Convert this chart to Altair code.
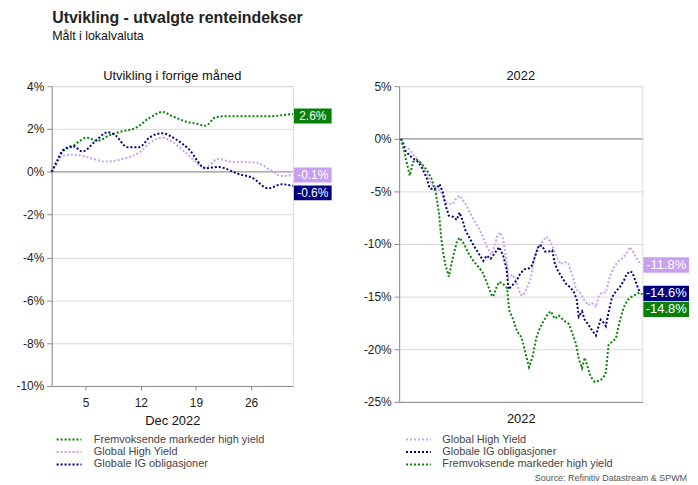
import altair as alt
import pandas as pd

FONT = "Liberation Sans"
GREEN = "#078007"
NAVY = "#00007f"
LAV = "#c8a0f0"

EM = "Fremvoksende markeder high yield"
GHY = "Global High Yield"
GIG = "Globale IG obligasjoner"

# ---- Left panel: last month (December 2022), day of month -> % change
m_day_em = [0.7, 1.5, 2.1, 3.4, 4.3, 5.1, 6.5, 8.0, 9.7, 11.0, 11.8, 13.0, 13.5, 14.7, 16.0, 17.7, 19.0, 20.2, 21.5, 22.7, 24.4, 26.5, 28.6, 30.0, 31.3]
m_val_em = [0, 0.5, 0.95, 1.2, 1.45, 1.6, 1.45, 1.7, 1.9, 2.0, 2.15, 2.5, 2.6, 2.8, 2.6, 2.35, 2.25, 2.15, 2.55, 2.6, 2.6, 2.6, 2.6, 2.65, 2.7]

m_day_ghy = [0.7, 1.5, 2.1, 3.4, 5.1, 6.5, 7.5, 9.7, 11.8, 13.5, 14.7, 16.0, 17.7, 20.2, 21.8, 23.5, 26.5, 28.6, 29.8, 31.3]
m_val_ghy = [0, 0.5, 0.75, 0.8, 0.7, 0.55, 0.48, 0.6, 0.9, 1.45, 1.6, 1.4, 0.9, 0.2, 0.6, 0.47, 0.44, 0.05, -0.19, -0.15]

m_day_gig = [0.7, 1.5, 2.1, 3.4, 4.6, 6.3, 7.8, 8.8, 10.3, 11.8, 13.1, 14.7, 16.4, 18.1, 20.2, 21.8, 24.4, 26.1, 28.2, 29.9, 31.3]
m_val_gig = [0, 0.6, 1.0, 1.2, 0.95, 1.45, 1.85, 1.7, 1.15, 1.15, 1.6, 1.8, 1.53, 1.06, 0.17, 0.23, -0.1, -0.27, -0.77, -0.58, -0.66]

m_ticks = [5, 12, 19, 26]
m_labels = {EM: "2.6%", GHY: "-0.1%", GIG: "-0.6%"}

# ---- Right panel: 2022, day of year -> % change
y_day_em = [0, 4, 9, 13, 18, 24, 30, 39, 46, 52, 57, 61, 66, 72, 78, 84, 88, 94, 102, 109,
            117, 123, 129, 136, 139, 144, 148, 154, 160, 163, 168, 175, 182, 187, 193, 198, 204, 210, 216, 222,
            226, 232, 238, 246, 253, 259, 264, 268, 273, 277, 282, 286, 292, 298, 304, 309, 313, 318, 324, 330,
            336, 342, 348, 354, 360, 364]
y_val_em = [0, -1.0, -2.4, -3.5, -2.2, -2.0, -2.3, -3.0, -3.8, -5.0, -7.0, -9.7, -11.8, -13.1, -11.3, -9.8, -9.4, -9.9, -10.9, -11.6,
            -12.2, -12.7, -13.6, -14.8, -15.0, -14.1, -13.6, -13.8, -14.2, -16.3, -17.0, -18.3, -18.9, -20.2, -21.7, -20.8, -18.9, -17.9, -17.2, -16.6,
            -16.4, -17.1, -16.8, -17.3, -17.6, -18.6, -19.5, -20.9, -21.8, -20.8, -21.8, -22.6, -23.1, -23.0, -22.8, -22.2, -19.6, -19.3, -19.0, -17.3,
            -16.0, -15.3, -15.0, -14.8, -14.6, -14.8]

y_day_gig = [0, 6, 13, 19, 24, 30, 34, 39, 43, 49, 54, 58, 63, 67, 72, 78, 84, 88, 93, 97,
             103, 109, 117, 124, 129, 135, 142, 148, 154, 159, 162, 168, 174, 180, 186, 193, 198, 202, 208, 213,
             217, 223, 228, 232, 237, 243, 249, 255, 261, 265, 268, 273, 277, 283, 289, 294, 298, 301, 306, 309,
             313, 318, 324, 330, 336, 340, 345, 349, 354, 360]
y_val_gig = [0, -1.1, -1.6, -1.9, -2.1, -2.6, -3.1, -3.8, -4.7, -4.8, -4.7, -4.3, -5.1, -6.3, -7.3, -7.4, -7.7, -7.0, -7.8, -8.7,
             -9.4, -10.1, -10.9, -11.6, -11.1, -11.4, -10.8, -10.3, -11.1, -12.3, -14.3, -13.9, -13.5, -12.8, -12.4, -12.3, -12.0, -11.2, -10.1, -10.2,
             -10.7, -10.7, -10.6, -11.9, -12.6, -13.2, -13.8, -14.1, -14.6, -15.3, -16.9, -16.4, -17.2, -17.7, -18.3, -18.7, -17.8, -17.2, -17.5, -17.8,
             -16.5, -15.1, -14.5, -14.1, -13.5, -12.9, -12.6, -12.7, -13.6, -14.6]

y_day_ghy = [0, 6, 12, 18, 24, 30, 36, 42, 48, 54, 60, 66, 72, 78, 84, 88, 94, 100, 106, 112,
             118, 124, 130, 136, 141, 145, 150, 154, 159, 162, 168, 174, 180, 184, 189, 195, 201, 207, 213, 219,
             223, 229, 234, 240, 246, 252, 258, 264, 270, 276, 282, 288, 294, 298, 303, 309, 315, 321, 327, 333,
             339, 345, 349, 354, 360]
y_val_ghy = [0, -0.7, -1.0, -1.5, -1.9, -2.4, -3.0, -3.8, -4.5, -4.7, -5.0, -6.0, -6.2, -6.2, -5.6, -5.4, -5.9, -6.5, -7.3, -8.0,
             -8.6, -9.4, -10.3, -11.0, -10.2, -9.2, -8.9, -9.6, -11.5, -13.2, -12.9, -13.7, -14.8, -14.9, -14.3, -13.4, -11.3, -10.2, -9.8, -9.3,
             -9.5, -10.3, -11.1, -11.9, -11.7, -11.8, -12.9, -14.3, -14.6, -15.3, -15.8, -15.6, -16.0, -15.0, -14.6, -14.6, -13.1, -12.2, -11.7, -11.4,
             -11.0, -10.3, -10.6, -11.2, -11.8]

y_labels = {GHY: "-11.8%", GIG: "-14.6%", EM: "-14.8%"}

COLORS = {EM: GREEN, GHY: LAV, GIG: NAVY}


def long_df(parts):
    rows = []
    for name, days, vals in parts:
        for d, v in zip(days, vals):
            rows.append({"series": name, "day": d, "val": v})
    return pd.DataFrame(rows)


month_df = long_df([(EM, m_day_em, m_val_em), (GHY, m_day_ghy, m_val_ghy), (GIG, m_day_gig, m_val_gig)])
year_df = long_df([(GHY, y_day_ghy, y_val_ghy), (GIG, y_day_gig, y_val_gig), (EM, y_day_em, y_val_em)])


def panel(df, order, xdom, xaxis, ydom, yticks, w, h, title, labels, lab_w, lab_h, lab_fs,
          offsets, legend_x, legend_y, label_offset, interp):
    x = alt.X("day:Q", scale=alt.Scale(domain=xdom, nice=False, zero=False), axis=xaxis)
    y = alt.Y("val:Q", scale=alt.Scale(domain=ydom, nice=False, zero=False),
              axis=alt.Axis(values=yticks, labelExpr="datum.value + '%'", title=None,
                            grid=True, gridColor="#d9d9d9", domainColor="#8c8c8c",
                            tickColor="#8c8c8c", tickSize=5, labelFontSize=12,
                            labelColor="#222", labelPadding=3, labelFont=FONT))
    color = alt.Color("series:N",
                      scale=alt.Scale(domain=order, range=[COLORS[s] for s in order]),
                      legend=alt.Legend(orient="none", legendX=legend_x, legendY=legend_y,
                                        title=None, direction="vertical",
                                        symbolType="M-2.5,0H2.5", symbolSize=100,
                                        symbolStrokeWidth=2, symbolDash=[2, 2],
                                        symbolOffset=6.5, labelOffset=label_offset,
                                        labelFontSize=11, labelColor="#444", labelFont=FONT,
                                        rowPadding=1.5, padding=0, labelLimit=300))
    zero = alt.Chart(pd.DataFrame({"z": [0]})).mark_rule(color="#8c8c8c", strokeWidth=1).encode(
        y=alt.datum(0))
    lines = alt.Chart(df).mark_line(strokeDash=[2, 2], strokeWidth=2, interpolate=interp).encode(
        x=x, y=y, color=color)
    layers = [zero, lines]
    for s in order:
        sub = df[df.series == s]
        end_val = float(sub.val.iloc[-1])
        ldf = pd.DataFrame({"day": [xdom[1]], "val": [end_val], "txt": [labels[s]]})
        rect = alt.Chart(ldf).mark_rect(width=lab_w, height=lab_h, xOffset=lab_w / 2 + 1,
                                        yOffset=offsets[s], color=COLORS[s]).encode(x=x, y=y)
        txt = alt.Chart(ldf).mark_text(color="white", fontSize=lab_fs, font=FONT,
                                       xOffset=lab_w / 2 + 1, yOffset=offsets[s]).encode(
            x=x, y=y, text="txt:N")
        layers += [rect, txt]
    return alt.layer(*layers).properties(
        width=w, height=h,
        title=alt.TitleParams(title, fontSize=13, fontWeight="normal", font=FONT,
                              color="#111", offset=-3))


left_xaxis = alt.Axis(values=m_ticks, title="Dec 2022", grid=False, domainColor="#8c8c8c",
                      tickColor="#8c8c8c", tickSize=4, labelFontSize=12, labelColor="#222",
                      labelPadding=8, titleFontSize=13, titleFontWeight="normal",
                      titleColor="#111", titlePadding=6, labelFont=FONT, titleFont=FONT)
right_xaxis = alt.Axis(labels=False, ticks=False, title="2022", grid=False,
                       domainColor="#8c8c8c", titleFontSize=13, titleFontWeight="normal",
                       titleColor="#111", titlePadding=11, titleFont=FONT)

left = panel(month_df, [EM, GHY, GIG], [0.7, 31.3], left_xaxis, [-10, 4],
             list(range(-10, 5, 2)), 243, 302, "Utvikling i forrige måned", m_labels,
             38, 15, 12, {EM: 2, GHY: 0, GIG: 7}, 5, 350, 19, "monotone")

source = alt.Chart(pd.DataFrame({"t": ["Source: Refinitiv Datastream & SPWM"]})).mark_text(
    align="right", baseline="middle", fontSize=9, font=FONT, color="#555").encode(
    text="t:N", x=alt.value(290), y=alt.value(395))

right = panel(year_df, [GHY, GIG, EM], [-3, 364], right_xaxis, [-25, 5],
              list(range(-25, 6, 5)), 245, 318, "2022", y_labels,
              46, 15.5, 13, {GHY: 2, GIG: 1, EM: 15}, 7, 350, 18, "linear")
right = alt.layer(right, source)

chart = alt.hconcat(left, right, spacing=30).resolve_scale(color="independent").resolve_legend(
    color="independent").properties(
    title=alt.TitleParams("Utvikling - utvalgte renteindekser", subtitle="Målt i lokalvaluta",
                          anchor="start", fontSize=16, fontWeight="bold", font=FONT,
                          color="#222", subtitleFontSize=12.5, subtitleFont=FONT,
                          subtitleColor="#111", subtitlePadding=4, dx=37, offset=28),
    padding={"left": 7, "top": 0, "right": 0, "bottom": 0}
).configure_view(stroke=None).configure(font=FONT)

chart.save("out.html", embed_options={"renderer": "svg", "actions": False})
